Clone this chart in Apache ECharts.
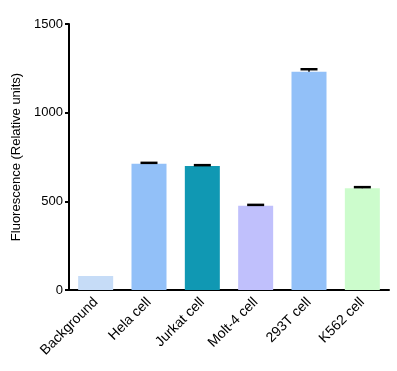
<!DOCTYPE html>
<html><head><meta charset="utf-8">
<script src="https://cdn.jsdelivr.net/npm/echarts@6/dist/echarts.min.js"></script>
<style>html,body{margin:0;padding:0;background:#fff}#c{width:397px;height:371px}</style>
</head><body><div id="c"></div>
<script>
var categories = ['Background','Hela cell','Jurkat cell','Molt-4 cell','293T cell','K562 cell'];
var means = [79, 712, 699, 475, 1231, 574];
var upper = [null, 717, 704, 480, 1245, 580];
var colors = ['#c6dcf7','#92c0f8','#1098b3','#c0c0fc','#92c0f8','#ccfccc'];

var chart = echarts.init(document.getElementById('c'));
chart.setOption({
  animation: false,
  grid: {left: 69, right: 8, top: 24, bottom: 81},
  xAxis: {
    type: 'category', data: categories,
    axisLine: {lineStyle: {color: '#000', width: 2}},
    axisTick: {alignWithLabel: true, length: 4, lineStyle: {color: '#000', width: 2}},
    axisLabel: {rotate: 45, color: '#000', fontSize: 14, fontFamily: 'Liberation Sans', margin: 10}
  },
  yAxis: {
    type: 'value', min: 0, max: 1500, interval: 500,
    name: 'Fluorescence (Relative units)', nameLocation: 'middle', nameGap: 37,
    nameTextStyle: {color: '#000', fontSize: 13, fontFamily: 'Liberation Sans'},
    splitLine: {show: false},
    axisLine: {show: true, lineStyle: {color: '#000', width: 2}},
    axisTick: {show: true, length: 4, lineStyle: {color: '#000', width: 2}},
    axisLabel: {color: '#000', fontSize: 13, fontFamily: 'Liberation Sans', margin: 6,
      formatter: function(v){ return String(v); }}
  },
  series: [{
    type: 'bar', barWidth: 35,
    data: means.map(function(v, i){ return {value: v, itemStyle: {color: colors[i]}}; }),
    z: 2
  }, {
    type: 'custom', z: 3,
    data: upper.map(function(v, i){ return [i, means[i], v == null ? means[i] : v]; }),
    renderItem: function(params, api){
      var i = api.value(0);
      if (upper[i] == null) return null;
      var lo = api.coord([i, api.value(1)]);
      var hi = api.coord([i, api.value(2)]);
      var hw = 8.5;
      return {type: 'group', children: [
        {type: 'line', shape: {x1: hi[0], y1: hi[1], x2: lo[0], y2: lo[1]}, style: {stroke: '#000', lineWidth: 1.5}},
        {type: 'line', shape: {x1: hi[0]-hw, y1: hi[1], x2: hi[0]+hw, y2: hi[1]}, style: {stroke: '#000', lineWidth: 2.5}}
      ]};
    }
  }]
});
</script></body></html>
